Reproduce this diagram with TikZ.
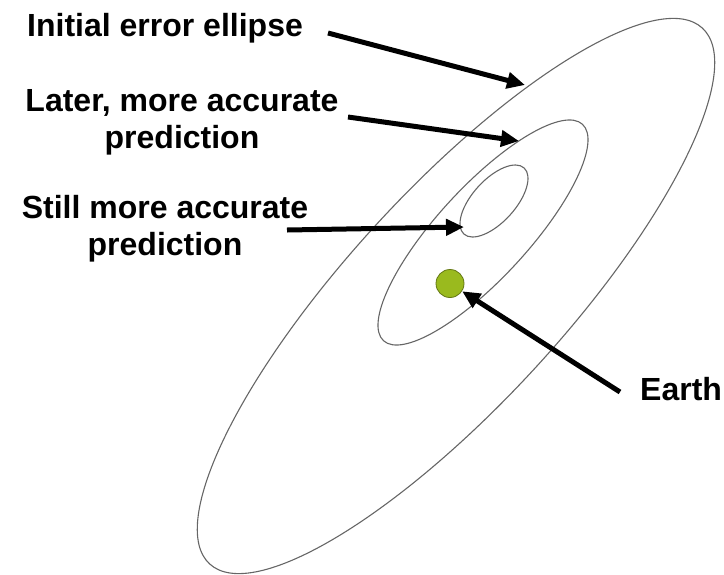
\documentclass[tikz,border=0pt]{standalone}
\usepackage{fontspec}
\setmainfont{Liberation Sans}
\usetikzlibrary{arrows.meta}
\definecolor{earthfill}{RGB}{154,186,30}
\definecolor{earthline}{RGB}{100,120,20}
\begin{document}
\begin{tikzpicture}[x=1pt,y=-1pt,
  lbl/.style={inner sep=0pt,font=\fontsize{32}{36.5}\selectfont\bfseries},
  orbit/.style={draw=black!60,line width=1.1pt},
  pointer/.style={line width=5pt,-{Triangle[length=18pt,width=16pt]},shorten <=0pt}]
\useasboundingbox (0,0) rectangle (724,574);
% ellipses
\draw[orbit,rotate around={47.4:(456,296)}] (456,296) ellipse [x radius=364,y radius=107];
\draw[orbit,rotate around={47.4:(483,232.5)}] (483,232.5) ellipse [x radius=147,y radius=45.5];
\draw[orbit,rotate around={47.6:(494,201)}] (494,201) ellipse [x radius=44.7,y radius=21.3];
% earth
\node[circle,fill=earthfill,draw=earthline,line width=0.8pt,minimum size=28pt,inner sep=0pt] (earth) at (450,283.5) {};
% labels
\node[lbl,anchor=base west] (initial) at (27,36) {Initial error ellipse};
\node[lbl,anchor=base,align=center] (later) at (182,148) {Later, more accurate\\prediction};
\node[lbl,anchor=base,align=center] (still) at (165,255) {Still more accurate\\prediction};
\node[lbl,anchor=base west] (earthlbl) at (640,400) {Earth};
% arrow ends
\coordinate (s1) at (328,33);
\coordinate (t1) at (525,85);
\coordinate (s2) at (348,117);
\coordinate (t2) at (519,141);
\coordinate (s3) at (287,230);
\coordinate (t3) at (464,227);
\coordinate (s4) at (620,392);
\draw[pointer] (s1) -- (t1);
\draw[pointer] (s2) -- (t2);
\draw[pointer] (s3) -- (t3);
\draw[pointer] (s4) -- (earth);
\end{tikzpicture}
\end{document}
